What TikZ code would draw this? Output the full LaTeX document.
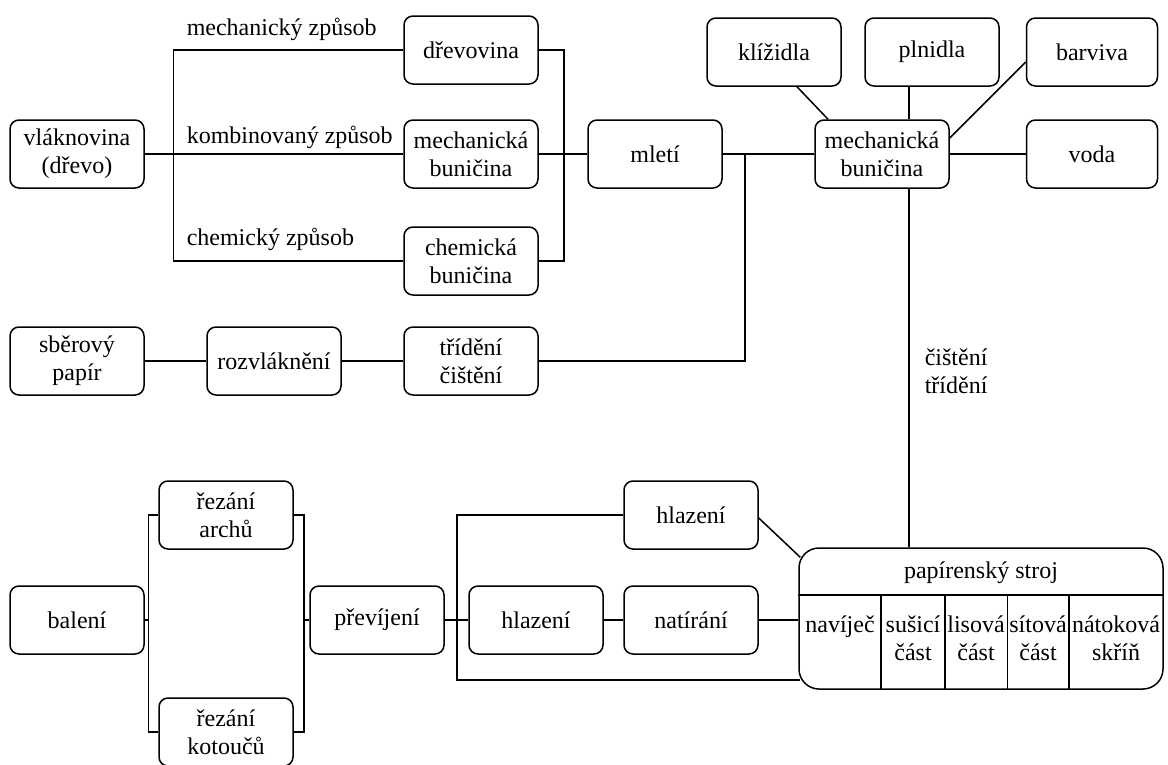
\documentclass[tikz,border=0pt]{standalone}
\usepackage{fontspec}
\setmainfont{Liberation Serif}
\usetikzlibrary{positioning}

\begin{document}
\begin{tikzpicture}[x=1pt,y=-1pt,line width=1.5pt,font=\fontsize{24}{28}\selectfont,
        box/.style={draw,rounded corners=9pt,minimum width=134pt,minimum height=68pt,align=center,inner sep=2pt},
        col/.style={anchor=north,align=center,inner sep=0pt}]
        \useasboundingbox (0,0) rectangle (1168,764);
        % wood fibre routes
        \node[box] (vlak) at (77,154) {vláknovina\\(dřevo)};
        \node[box] (drev) at (471,50) {dřevovina};
        \node[box] (mbunl) at (471,154) {mechanická\\buničina};
        \node[box] (chbun) at (471,261) {chemická\\buničina};
        \node[anchor=base west,inner sep=0pt] (lmech) at (186,35) {mechanický způsob};
        \node[anchor=base west,inner sep=0pt] (lkomb) at (186,143) {kombinovaný způsob};
        \node[anchor=base west,inner sep=0pt] (lchem) at (186,245) {chemický způsob};
        \node[box] (mleti) at (655,154) {mletí};
        \node[box] (mbun) at (882,154) {mechanická\\buničina};
        \node[box] (kliz) at (774,52) {klížidla};
        \node[box] (plni) at (932,52) {plnidla};
        \node[box,minimum width=131pt] (barv) at (1092,52) {barviva};
        \node[box,minimum width=131pt] (voda) at (1092,154) {voda};
        % waste paper
        \node[box] (sber) at (77,361) {sběrový\\papír};
        \node[box] (rozv) at (274,361) {rozvláknění};
        \node[box] (trid) at (471,361) {třídění\\čištění};
        \node[anchor=north west,align=left,inner sep=0pt] (lcist) at (924,348) {čištění\\třídění};
        % finishing
        \node[box] (rarch) at (226,515) {řezání\\archů};
        \node[box] (rkot) at (226,732) {řezání\\kotoučů};
        \node[box] (bal) at (77,620) {balení};
        \node[box] (prev) at (377,620) {převíjení};
        \node[box] (hlaz) at (536,620) {hlazení};
        \node[box] (nat) at (691,620) {natírání};
        \node[box] (hlazt) at (691,515) {hlazení};
        % paper machine
        \node[draw,rounded corners=20pt,minimum width=364pt,minimum height=141pt] (stroj) at (981,618.5) {};
        \node[anchor=base,inner sep=0pt] (strojt) at (981,578) {papírenský stroj};
        \draw (stroj.west |- 0,595) -- (stroj.east |- 0,595);
        \foreach \cx in {881,945,1007.5,1069}
            \draw (\cx,595) -- (\cx,689);
        \node[col] (navi) at (840,615) {navíječ};
        \node[col] (susi) at (913,615) {sušicí\\část};
        \node[col] (liso) at (976,615) {lisová\\část};
        \node[col] (sito) at (1038,615) {sítová\\část};
        \node[col] (nato) at (1116,615) {nátoková\\skříň};
        % connectors
        \draw (vlak) -- (mbunl);
        \draw (drev.west) -- ++(-230,0) |- (chbun.west);
        \draw (drev.east) -- ++(25,0) |- (chbun.east);
        \draw (mbunl) -- (mleti);
        \draw (mleti) -- (mbun);
        \coordinate (jm) at (745,154);
        \draw (trid.east) -| (jm);
        \draw (sber) -- (rozv);
        \draw (rozv) -- (trid);
        \draw ([xshift=23pt]kliz.south) -- ([xshift=-54pt]mbun.north);
        \draw ([xshift=-23pt]plni.south) -- ([xshift=27pt]mbun.north);
        \draw ([yshift=-10pt]barv.west) -- ([yshift=16pt]mbun.east);
        \draw (mbun) -- (voda);
        \draw ([xshift=27pt]mbun.south) -- ([xshift=27pt]mbun.south |- stroj.north);
        \coordinate (lbr) at ([xshift=-10pt]rarch.west);
        \coordinate (rbr) at ([xshift=10pt]rarch.east);
        \draw (rarch.west) -- (lbr) |- (rkot.west);
        \draw (rarch.east) -- (rbr) |- (rkot.east);
        \draw (bal.east) -- (bal.east -| lbr);
        \draw (prev.west) -- (prev.west -| rbr);
        \coordinate (pbr) at ([xshift=12pt]prev.east);
        \coordinate (sbot) at ([xshift=2pt,yshift=10pt]stroj.south west);
        \draw (hlazt.west) -| (pbr) |- (sbot);
        \draw (prev) -- (hlaz);
        \draw (hlaz) -- (nat);
        \draw (nat.east) -- (nat.east -| stroj.west);
        \draw ([yshift=-3pt]hlazt.east) -- ([xshift=2pt,yshift=-10pt]stroj.north west);
\end{tikzpicture}
\end{document}
